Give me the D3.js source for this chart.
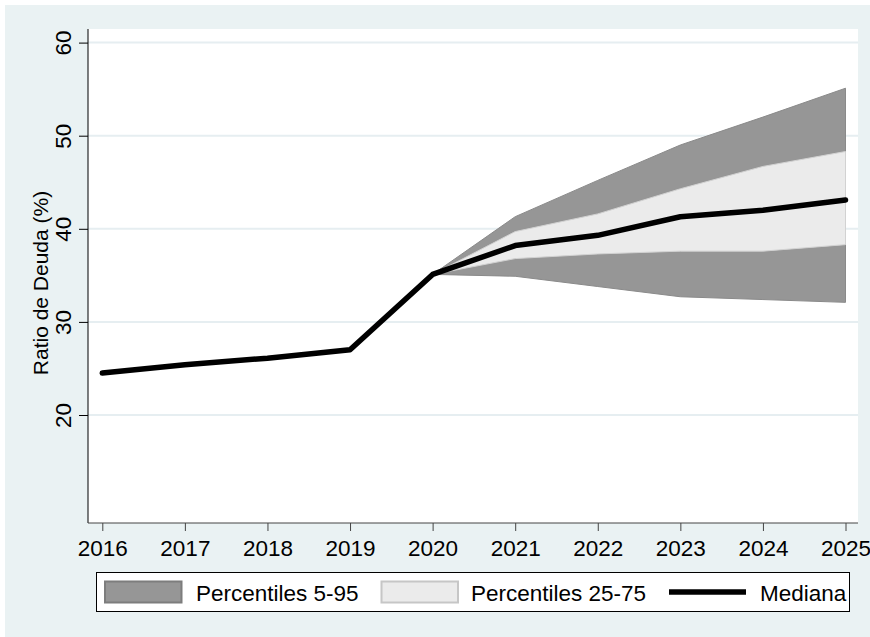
<!DOCTYPE html>
<html>
<head>
<meta charset="utf-8">
<script src="https://cdn.jsdelivr.net/npm/d3@7"></script>
<style>
  html, body { margin: 0; padding: 0; background: #ffffff; }
  svg text { font-family: "Liberation Sans", Arial, sans-serif; fill: #000; }
</style>
</head>
<body>
<svg id="chart" width="870" height="637"></svg>
<script>
// Debt ratio projections: median path with percentile fan
const years   = [2016, 2017, 2018, 2019, 2020, 2021, 2022, 2023, 2024, 2025];
const mediana = [24.5, 25.4, 26.1, 27.0, 35.1, 38.2, 39.3, 41.3, 42.0, 43.1];

const fanYears = [2020, 2021, 2022, 2023, 2024, 2025];
const p5  = [35.1, 34.9, 33.8, 32.7, 32.4, 32.1];
const p25 = [35.1, 36.8, 37.3, 37.6, 37.6, 38.3];
const p75 = [35.1, 39.7, 41.6, 44.3, 46.7, 48.3];
const p95 = [35.1, 41.3, 45.2, 49.0, 52.0, 55.1];

const yTicks = [20, 30, 40, 50, 60];

const yTitle = "Ratio de Deuda (%)";
const legendLabels = ["Percentiles 5-95", "Percentiles 25-75", "Mediana"];

const colors = {
  bg: "#eaf2f3",
  grid: "#e6eef1",
  outer: "#969696", outerLine: "#8a8a8a",
  inner: "#ebebeb", innerLine: "#d2d2d2",
  median: "#000000"
};
const fontSize = "22.5px";

const svg = d3.select("#chart");

// Figure background
svg.append("rect").attr("x", 5).attr("y", 5).attr("width", 865).attr("height", 632)
  .attr("fill", colors.bg);

// Plot region
const plot = { left: 88, right: 858, top: 29, bottom: 523 };
svg.append("rect")
  .attr("x", plot.left).attr("y", plot.top)
  .attr("width", plot.right - plot.left).attr("height", plot.bottom - plot.top)
  .attr("fill", "#ffffff");

const x = d3.scaleLinear().domain([2016, 2025]).range([102.3, 845.5]);
const y = d3.scaleLinear().domain([20, 60]).range([415, 42.6]);

// Horizontal grid
svg.append("g").selectAll("line").data(yTicks).join("line")
  .attr("x1", plot.left).attr("x2", plot.right)
  .attr("y1", d => y(d)).attr("y2", d => y(d))
  .attr("stroke", colors.grid).attr("stroke-width", 2);

// Percentile bands
const band = (lo, hi) => d3.area()
  .x((d, i) => x(fanYears[i]))
  .y0((d, i) => y(lo[i]))
  .y1((d, i) => y(hi[i]));

svg.append("path").datum(fanYears)
  .attr("d", band(p5, p95))
  .attr("fill", colors.outer).attr("stroke", colors.outerLine).attr("stroke-width", 1);

svg.append("path").datum(fanYears)
  .attr("d", band(p25, p75))
  .attr("fill", colors.inner).attr("stroke", colors.innerLine).attr("stroke-width", 1);

// Median line
svg.append("path").datum(years)
  .attr("d", d3.line().x((d, i) => x(d)).y((d, i) => y(mediana[i])))
  .attr("fill", "none").attr("stroke", colors.median)
  .attr("stroke-width", 5.5).attr("stroke-linejoin", "round").attr("stroke-linecap", "round");

// Y axis
const yAxis = svg.append("g").attr("transform", `translate(${plot.left},0)`)
  .call(d3.axisLeft(y).tickValues(yTicks).tickSize(9).tickPadding(0).tickFormat(d3.format("d")));
yAxis.select(".domain").attr("d", `M0,${plot.top}V${plot.bottom}`).attr("stroke", "#000");
yAxis.selectAll(".tick line").attr("stroke", "#000");
yAxis.selectAll(".tick text")
  .attr("transform", "rotate(-90)")
  .attr("x", 0).attr("y", -17).attr("dy", 0)
  .attr("text-anchor", "middle")
  .style("font-size", fontSize)
  .style("font-family", "'Liberation Sans', Arial, sans-serif");

// X axis
const xAxis = svg.append("g").attr("transform", `translate(0,${plot.bottom})`)
  .call(d3.axisBottom(x).tickValues(years).tickSize(8).tickPadding(0).tickFormat(d3.format("d")));
xAxis.select(".domain").attr("d", `M${plot.left},0H${plot.right}`).attr("stroke", "#444");
xAxis.selectAll(".tick line").attr("stroke", "#444");
xAxis.selectAll(".tick text")
  .attr("y", 33).attr("dy", 0)
  .style("font-size", fontSize)
  .style("font-family", "'Liberation Sans', Arial, sans-serif");

// Y axis title
svg.append("text")
  .attr("transform", `translate(48,${(plot.top + plot.bottom) / 2 + 7}) rotate(-90)`)
  .attr("text-anchor", "middle")
  .style("font-size", "21px")
  .text(yTitle);

// Legend
const lg = svg.append("g");
lg.append("rect").attr("x", 96.5).attr("y", 572.5).attr("width", 753).attr("height", 39)
  .attr("fill", "#fff").attr("stroke", "#000").attr("stroke-width", 1);

lg.append("rect").attr("x", 105).attr("y", 581.5).attr("width", 76.5).attr("height", 21)
  .attr("fill", colors.outer).attr("stroke", "#7d7d7d").attr("stroke-width", 2);
lg.append("text").attr("x", 196).attr("y", 600.5).style("font-size", fontSize).text(legendLabels[0]);

lg.append("rect").attr("x", 381.5).attr("y", 581.5).attr("width", 76.5).attr("height", 21)
  .attr("fill", colors.inner).attr("stroke", "#c6c6c6").attr("stroke-width", 2);
lg.append("text").attr("x", 471).attr("y", 600.5).style("font-size", fontSize).text(legendLabels[1]);

lg.append("line").attr("x1", 669).attr("x2", 746).attr("y1", 592).attr("y2", 592)
  .attr("stroke", colors.median).attr("stroke-width", 5.5);
lg.append("text").attr("x", 760).attr("y", 600.5).style("font-size", fontSize).text(legendLabels[2]);
</script>
</body>
</html>
